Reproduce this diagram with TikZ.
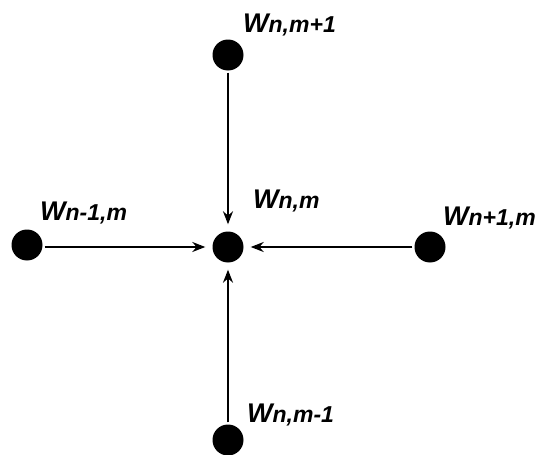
\documentclass[tikz,border=0pt]{standalone}
\usepackage{fontspec}
\setmainfont{Liberation Sans}
\usetikzlibrary{arrows.meta}
\begin{document}
\begin{tikzpicture}[x=1pt,y=-1pt,
  dot/.style={circle,fill=black,inner sep=0pt,minimum size=31pt},
  lab/.style={anchor=base west,inner sep=0pt,font=\bfseries\itshape},
  arr/.style={line width=1.6pt,-{Stealth[length=13pt,width=10pt]},shorten <=2pt,shorten >=7pt}]
\useasboundingbox (0,0) rectangle (547,455);
\node[dot] (top) at (228,55) {};
\node[dot] (ctr) at (228,247) {};
\node[dot] (lft) at (27,245) {};
\node[dot] (rgt) at (430,247) {};
\node[dot] (bot) at (228,440) {};
\newcommand{\wlab}[1]{{\fontsize{27}{27}\selectfont W}{\fontsize{23}{23}\selectfont #1}}
\node[lab] (ltop) at (243,32) {\wlab{n,m+1}};
\node[lab] (lctr) at (253,208) {\wlab{n,m}};
\node[lab] (llft) at (40,220) {\wlab{n-1,m}};
\node[lab] (lrgt) at (443,225) {\wlab{n+1,m}};
\node[lab] (lbot) at (247,422) {\wlab{n,m-1}};
\draw[arr] (top) -- (ctr);
\draw[arr] (lft.east |- ctr) -- (ctr);
\draw[arr] (rgt) -- (ctr);
\draw[arr] (bot) -- (ctr);
\end{tikzpicture}
\end{document}
